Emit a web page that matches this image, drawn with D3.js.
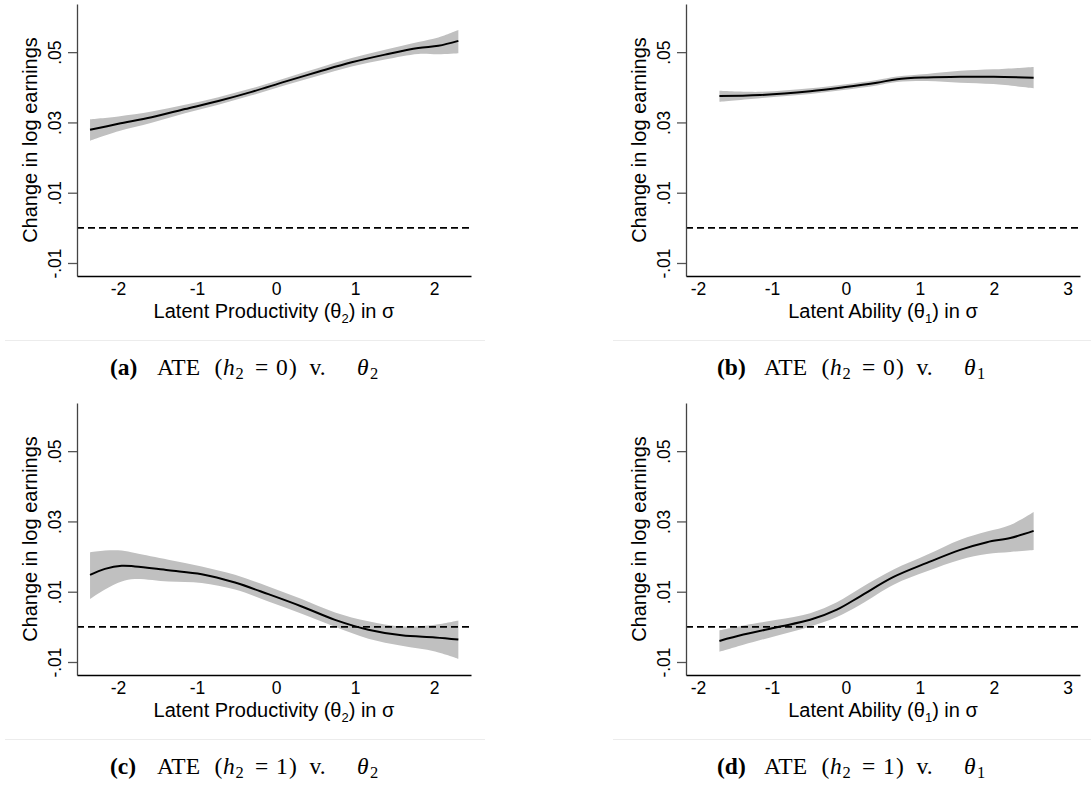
<!DOCTYPE html>
<html><head><meta charset="utf-8">
<script src="https://cdn.jsdelivr.net/npm/d3@7"></script>
<style>body{margin:0;background:#fff}svg{display:block}</style>
</head><body><svg id="c" width="1091" height="788"></svg>
<script>
// ---- data ----
// (a) ATE (h2=0) vs theta2
const thetaA=[-2.354,-1.996,-1.574,-1.152,-0.730,-0.308,0.114,0.535,0.958,1.380,1.801,2.055,2.308];
const estA  =[0.0279,0.0296,0.0315,0.0338,0.0361,0.0387,0.0416,0.0444,0.0471,0.0493,0.0512,0.0518,0.0532];
const loA   =[0.0248,0.0275,0.0299,0.0326,0.0350,0.0377,0.0406,0.0433,0.0459,0.0479,0.0495,0.0494,0.0497];
const hiA   =[0.0309,0.0317,0.0331,0.0350,0.0372,0.0397,0.0426,0.0455,0.0483,0.0507,0.0529,0.0542,0.0563];
// (b) ATE (h2=0) vs theta1
const thetaB=[-1.710,-1.160,-0.483,-0.032,0.419,0.690,1.096,1.547,1.997,2.539];
const estB  =[0.0375,0.0378,0.0389,0.0400,0.0413,0.0423,0.0428,0.0430,0.0430,0.0427];
const loB   =[0.0359,0.0369,0.0381,0.0392,0.0405,0.0415,0.0418,0.0413,0.0409,0.0397];
const hiB   =[0.0390,0.0387,0.0397,0.0408,0.0421,0.0431,0.0438,0.0447,0.0451,0.0458];
// (c) ATE (h2=1) vs theta2
const thetaC=[-2.354,-2.165,-1.953,-1.785,-1.363,-0.941,-0.519,-0.097,0.325,0.747,1.169,1.591,2.013,2.308];
const estC  =[0.0148,0.0165,0.0174,0.0172,0.0161,0.0150,0.0126,0.0093,0.0058,0.0020,-0.0008,-0.0024,-0.0030,-0.0036];
const loC   =[0.0079,0.0106,0.0129,0.0136,0.0129,0.0125,0.0106,0.0072,0.0037,0.0000,-0.0034,-0.0054,-0.0070,-0.0091];
const hiC   =[0.0212,0.0217,0.0217,0.0210,0.0191,0.0172,0.0148,0.0115,0.0079,0.0041,0.0016,0.0001,0.0006,0.0018];
// (d) ATE (h2=1) vs theta1
const thetaD=[-1.710,-1.386,-0.934,-0.483,-0.122,0.194,0.645,1.096,1.547,1.908,2.223,2.539];
const estD  =[-0.0040,-0.0022,-0.0001,0.0020,0.0049,0.0087,0.0142,0.0182,0.0219,0.0241,0.0253,0.0273];
const loD   =[-0.0071,-0.0051,-0.0025,0.0001,0.0028,0.0063,0.0120,0.0158,0.0191,0.0207,0.0213,0.0219];
const hiD   =[-0.0010,0.0004,0.0020,0.0039,0.0070,0.0110,0.0163,0.0205,0.0248,0.0271,0.0290,0.0327];

const yTicks=[-0.01,0.01,0.03,0.05];
const yTickLabels=["-.01",".01",".03",".05"];
const yDomain=[-0.0137,0.0637];
const xTicksProd=[-2,-1,0,1,2];
const xTicksAbil=[-2,-1,0,1,2,3];
const xDomainProd=[-2.519,2.468];
const xDomainAbil=[-2.162,3.166];
const yTitle="Change in log earnings";
const xTitleProd=["Latent Productivity (θ","2",") in σ"];
const xTitleAbil=["Latent Ability (θ","1",") in σ"];
const captionLetters=["(a)","(b)","(c)","(d)"];
const captionH=["0","0","1","1"];
const captionTheta=["2","1","2","1"];

// ---- drawing ----
const svg=d3.select("#c");
const sans="'Liberation Sans', Arial, sans-serif";
const serif="'Liberation Serif','Times New Roman',serif";

const cols=[
  {left:77,right:471,xDomain:xDomainProd,xTicks:xTicksProd,xTitle:xTitleProd,capX:110,sep:[5,485]},
  {left:686,right:1080,xDomain:xDomainAbil,xTicks:xTicksAbil,xTitle:xTitleAbil,capX:717,sep:[613,1091]}
];
const rowOff=[0,399];
const series=[
  [thetaA,estA,loA,hiA],[thetaB,estB,loB,hiB],[thetaC,estC,loC,hiC],[thetaD,estD,loD,hiD]
];

series.forEach((s,i)=>{
  const c=cols[i%2], off=rowOff[Math.floor(i/2)];
  const top=4+off, bottom=276+off;
  const g=svg.append("g");
  const x=d3.scaleLinear().domain(c.xDomain).range([c.left,c.right]);
  const y=d3.scaleLinear().domain(yDomain).range([bottom,top]);
  const rows=s[0].map((t,j)=>({t,e:s[1][j],lo:s[2][j],hi:s[3][j]}));
  const curve=d3.curveCatmullRom.alpha(0.5);
  g.append("path").datum(rows)
    .attr("d",d3.area().x(d=>x(d.t)).y0(d=>y(d.lo)).y1(d=>y(d.hi)).curve(curve))
    .attr("fill","#c0c0c0");
  g.append("line").attr("x1",c.left).attr("x2",c.right).attr("y1",y(0)).attr("y2",y(0))
    .attr("stroke","#000").attr("stroke-width",1.6).attr("stroke-dasharray","7,4");
  g.append("path").datum(rows)
    .attr("d",d3.line().x(d=>x(d.t)).y(d=>y(d.e)).curve(curve))
    .attr("fill","none").attr("stroke","#000").attr("stroke-width",2);

  // y axis
  const ya=g.append("g").attr("transform",`translate(${c.left},0)`)
    .call(d3.axisLeft(y).tickValues(yTicks).tickFormat((d,j)=>yTickLabels[j]).tickSize(9).tickSizeOuter(0));
  ya.select(".domain").attr("stroke","#444").attr("stroke-width",1.3);
  ya.selectAll(".tick line").attr("stroke","#555").attr("stroke-width",1.3);
  ya.selectAll(".tick text").attr("transform","rotate(-90)").attr("x",0).attr("y",-16).attr("dy",0)
    .attr("text-anchor","middle").style("font-family",sans).style("font-size","17.5px").attr("fill","#000");

  // x axis
  const xa=g.append("g").attr("transform",`translate(0,${bottom})`)
    .call(d3.axisBottom(x).tickValues(c.xTicks).tickFormat(d=>String(d)).tickSize(0).tickSizeOuter(0));
  xa.select(".domain").attr("stroke","#000").attr("stroke-width",1.5);
  xa.selectAll(".tick text").attr("y",19).attr("dy",0)
    .style("font-family",sans).style("font-size","17.5px").attr("fill","#000");

  // titles
  g.append("text").attr("transform",`translate(${c.left-40.5},${(top+bottom)/2}) rotate(-90)`)
    .attr("text-anchor","middle").style("font-family",sans).style("font-size","20px").text(yTitle);
  const xt=g.append("text").attr("x",(c.left+c.right)/2).attr("y",bottom+42)
    .attr("text-anchor","middle").style("font-family",sans).style("font-size","20px");
  xt.append("tspan").text(c.xTitle[0]);
  xt.append("tspan").attr("dy",5).style("font-size","13px").text(c.xTitle[1]);
  xt.append("tspan").attr("dy",-5).text(c.xTitle[2]);

  // separator
  g.append("line").attr("x1",c.sep[0]).attr("x2",c.sep[1]).attr("y1",340.5+off).attr("y2",340.5+off)
    .attr("stroke","#ececec").attr("stroke-width",1);

  // caption (pieces placed like the LaTeX layout)
  const x0=c.capX, by=374.5+off;
  const cap=g.append("text").attr("y",by).style("font-family",serif).style("font-size","23.5px").attr("fill","#000");
  cap.append("tspan").attr("x",x0).style("font-weight","bold").text(captionLetters[i]);
  cap.append("tspan").attr("x",x0+47).text("ATE");
  cap.append("tspan").attr("x",x0+104.5).text("(");
  cap.append("tspan").attr("x",x0+113).style("font-style","italic").text("h");
  cap.append("tspan").attr("x",x0+125.5).attr("dy",4.5).style("font-size","16.5px").text("2");
  cap.append("tspan").attr("x",x0+145).attr("dy",-4.5).text("=");
  cap.append("tspan").attr("x",x0+166).text(captionH[i]);
  cap.append("tspan").attr("x",x0+179).text(")");
  cap.append("tspan").attr("x",x0+199.5).text("v.");
  cap.append("tspan").attr("x",x0+247).style("font-style","italic").text("θ");
  cap.append("tspan").attr("x",x0+260).attr("dy",4.5).style("font-size","16.5px").text(captionTheta[i]);
});
</script>
</body></html>
